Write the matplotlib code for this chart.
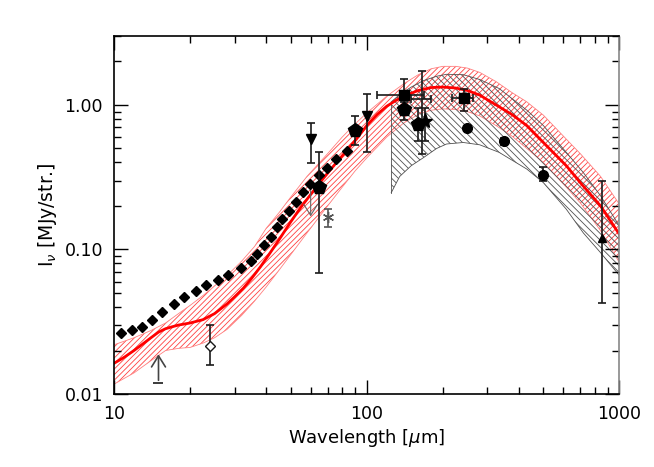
import numpy as np
import matplotlib
matplotlib.use('Agg')
import matplotlib.pyplot as plt

plt.rcParams['font.family'] = 'DejaVu Sans'
plt.rcParams['hatch.linewidth'] = 0.6

# model (red line)
red_wl = [10, 11, 12, 13, 14, 15, 16, 17, 18, 20, 22.5, 25, 28, 30, 32.5, 35, 38, 41, 45, 50,
          55, 60, 67, 75, 83, 91, 100, 110, 120, 130, 140, 160, 180, 200, 225, 250, 280,
          325, 375, 430, 500, 616, 700, 842, 1000]
red_val = [0.0163, 0.0180, 0.0200, 0.0222, 0.0245, 0.0268, 0.0283, 0.0292, 0.0300, 0.0310,
           0.0327, 0.0360, 0.0420, 0.0470, 0.0540, 0.0630, 0.0760, 0.0920, 0.117, 0.155,
           0.197, 0.240, 0.307, 0.390, 0.480, 0.580, 0.720, 0.860, 0.980, 1.07, 1.15, 1.26,
           1.32, 1.33, 1.31, 1.26, 1.17, 1.00, 0.86, 0.72, 0.55, 0.38, 0.29, 0.20, 0.127]

# red uncertainty band
band_wl = [10, 12, 14, 16, 18, 20, 22.5, 25, 28, 32, 36, 40, 45, 50, 58, 70, 80, 90, 100,
           120, 140, 160, 180, 200, 225, 250, 280, 325, 375, 430, 500, 616, 700, 842, 1000]
band_hi = [0.0219, 0.0245, 0.0275, 0.031, 0.036, 0.041, 0.048, 0.056, 0.066, 0.083, 0.105,
           0.140, 0.180, 0.230, 0.320, 0.460, 0.600, 0.740, 0.880, 1.15, 1.40, 1.62, 1.78,
           1.85, 1.85, 1.80, 1.68, 1.45, 1.22, 1.05, 0.85, 0.58, 0.46, 0.32, 0.205]
band_lo = [0.0117, 0.0140, 0.0170, 0.0200, 0.0207, 0.0210, 0.0225, 0.0245, 0.0280, 0.035,
           0.044, 0.055, 0.072, 0.092, 0.130, 0.200, 0.270, 0.350, 0.430, 0.600, 0.750,
           0.860, 0.920, 0.940, 0.930, 0.900, 0.840, 0.720, 0.610, 0.500, 0.400, 0.270,
           0.210, 0.135, 0.081]

# grey band
grey_wl = [125, 135, 150, 167, 189, 207, 241, 280, 334, 430, 500, 616, 720, 842, 1000]
grey_hi = [1.05, 1.18, 1.33, 1.47, 1.58, 1.63, 1.62, 1.50, 1.30, 0.92, 0.72, 0.47, 0.34, 0.235, 0.145]
grey_lo = [0.247, 0.32, 0.38, 0.43, 0.50, 0.537, 0.55, 0.53, 0.47, 0.36, 0.29, 0.19, 0.13, 0.095, 0.066]

# filled diamonds (spectrum)
spec_wl = [10.7, 11.75, 12.9, 14.2, 15.5, 17.3, 19.0, 21.1, 23.2, 25.7, 28.3, 31.8, 34.8, 36.8,
           39.2, 41.7, 44.2, 46.4, 49.2, 52.5, 56.1, 59.9, 64.7, 69.9, 75.7, 83.6]
spec_val = [0.0264, 0.0278, 0.0290, 0.0323, 0.0369, 0.0417, 0.0467, 0.0519, 0.0571, 0.0619,
            0.0664, 0.0747, 0.0830, 0.0925, 0.107, 0.122, 0.142, 0.162, 0.186, 0.213, 0.248,
            0.283, 0.326, 0.369, 0.422, 0.482]

# photometry: wl, value, low, high
pent_wl = [65, 90, 140, 160]
pent_val = [0.27, 0.67, 0.935, 0.74]
pent_lo = [0.0684, 0.53, 0.79, 0.56]
pent_hi = [0.476, 0.84, 1.04, 0.96]

tri_dn_wl = [60, 100]
tri_dn_val = [0.58, 0.84]
tri_dn_lo = [0.395, 0.47]
tri_dn_hi = [0.75, 1.19]

sq_wl = [140, 242]
sq_val = [1.17, 1.11]
sq_lo = [0.93, 0.91]
sq_hi = [1.51, 1.29]
sq_xlo = [110, 217]
sq_xhi = [168, 264]

circ_wl = [250, 350, 500]
circ_val = [0.69, 0.56, 0.33]
circ_lo = [0.67, 0.53, 0.30]
circ_hi = [0.71, 0.59, 0.37]

star_wl, star_val, star_lo, star_hi = 170, 0.77, 0.56, 0.96
tall_wl, tall_val, tall_lo, tall_hi, tall_xlo, tall_xhi = 165, 1.10, 0.46, 1.73, 150, 180
tri_up_wl, tri_up_val, tri_up_lo, tri_up_hi = 850, 0.120, 0.0426, 0.298
open_wl, open_val, open_lo, open_hi = 24, 0.0215, 0.0159, 0.0301
ast_wl, ast_val, ast_lo, ast_hi = 70, 0.167, 0.143, 0.192
lim15_wl, lim15_lo, lim15_hi = 15, 0.0119, 0.0197
lim60_wl, lim60_top, lim60_tip = 60, 0.29, 0.162

ec = '#1a1a1a'

fig = plt.figure(figsize=(6.54, 4.67), dpi=100)
ax = fig.add_axes([0.1743, 0.1563, 0.7729, 0.7666])
ax.set_xscale('log')
ax.set_yscale('log')
ax.set_xlim(10, 1000)
ax.set_ylim(0.01, 3.0)

ax.fill_between(band_wl, band_lo, band_hi, facecolor='none', edgecolor='#ff4040',
                hatch='//////', linewidth=0.0, zorder=1)
ax.plot(band_wl, band_hi, color='#ff8080', lw=0.6, zorder=1)
ax.plot(band_wl, band_lo, color='#ff8080', lw=0.6, zorder=1)

ax.fill_between(grey_wl, grey_lo, grey_hi, facecolor='none', edgecolor='#505050',
                hatch='\\\\\\\\\\', linewidth=0.0, zorder=1)
ax.plot(grey_wl, grey_hi, color='#505050', lw=0.6, zorder=1)
ax.plot(grey_wl, grey_lo, color='#505050', lw=0.6, zorder=1)
ax.plot([grey_wl[0], grey_wl[0]], [grey_lo[0], grey_hi[0]], color='#505050', lw=0.6, zorder=1)

ax.plot(red_wl, red_val, color='red', lw=2, zorder=2)

ax.plot(spec_wl, spec_val, 'D', color='black', ms=5.5, zorder=4)

ekw = dict(ecolor=ec, elinewidth=1.2, capsize=3, capthick=1.2, linestyle='none', zorder=5)

def yerr(v, lo, hi):
    return [np.array(v) - np.array(lo), np.array(hi) - np.array(v)]

ax.errorbar(pent_wl, pent_val, yerr=yerr(pent_val, pent_lo, pent_hi), fmt='p',
            color='black', ms=10, **ekw)
ax.errorbar(tri_dn_wl, tri_dn_val, yerr=yerr(tri_dn_val, tri_dn_lo, tri_dn_hi), fmt='v',
            color='black', ms=7, **ekw)
ax.errorbar(sq_wl, sq_val, yerr=yerr(sq_val, sq_lo, sq_hi),
            xerr=yerr(sq_wl, sq_xlo, sq_xhi), fmt='s', color='black', ms=7, **ekw)
ax.errorbar(circ_wl, circ_val, yerr=yerr(circ_val, circ_lo, circ_hi), fmt='o',
            color='black', ms=7, **ekw)
ax.errorbar([tall_wl], [tall_val], yerr=yerr([tall_val], [tall_lo], [tall_hi]),
            xerr=yerr([tall_wl], [tall_xlo], [tall_xhi]), fmt='none', **ekw)
ax.errorbar([star_wl], [star_val], yerr=yerr([star_val], [star_lo], [star_hi]), fmt='*',
            color='black', ms=11, **ekw)
ax.errorbar([tri_up_wl], [tri_up_val], yerr=yerr([tri_up_val], [tri_up_lo], [tri_up_hi]),
            fmt='^', color='black', ms=6, **ekw)
ax.errorbar([open_wl], [open_val], yerr=yerr([open_val], [open_lo], [open_hi]), fmt='D',
            mfc='white', mec=ec, ms=5, **ekw)
ax.errorbar([ast_wl], [ast_val], yerr=yerr([ast_val], [ast_lo], [ast_hi]),
            fmt='none', **dict(ekw, ecolor='#555555'))
ax.plot([ast_wl], [ast_val], marker=(6, 2, 0), color='#555555', ms=8, mew=1, zorder=5)

# limits
ax.plot([lim15_wl], [lim15_lo], marker='_', color=ec, ms=7, mew=1.2, zorder=5)
ax.annotate('', xy=(lim15_wl, lim15_hi), xytext=(lim15_wl, lim15_lo),
            arrowprops=dict(arrowstyle='->, head_length=0.8, head_width=0.5', color='#444444', lw=1.2),
            zorder=5)
ax.annotate('', xy=(lim60_wl, lim60_tip), xytext=(lim60_wl, lim60_top),
            arrowprops=dict(arrowstyle='->, head_length=0.8, head_width=0.5', color='#666666', lw=0.8),
            zorder=3)

ax.set_xticks([10, 100, 1000])
ax.set_xticklabels(['10', '100', '1000'])
ax.set_yticks([0.01, 0.1, 1.0])
ax.set_yticklabels(['0.01', '0.10', '1.00'])
ax.tick_params(which='both', direction='in', top=True, right=True, labelsize=12.5)
ax.tick_params(which='major', length=10, width=1, pad=8)
ax.tick_params(which='minor', length=5, width=1)
for s in ax.spines.values():
    s.set_linewidth(1.2)
ax.spines['right'].set_color('#888888')

ax.set_xlabel(r'Wavelength [$\mu$m]', fontsize=13, labelpad=3)
ax.set_ylabel(r'I$_\nu$ [MJy/str.]', fontsize=13.5, labelpad=4)

fig.savefig('out.png', dpi=100)
